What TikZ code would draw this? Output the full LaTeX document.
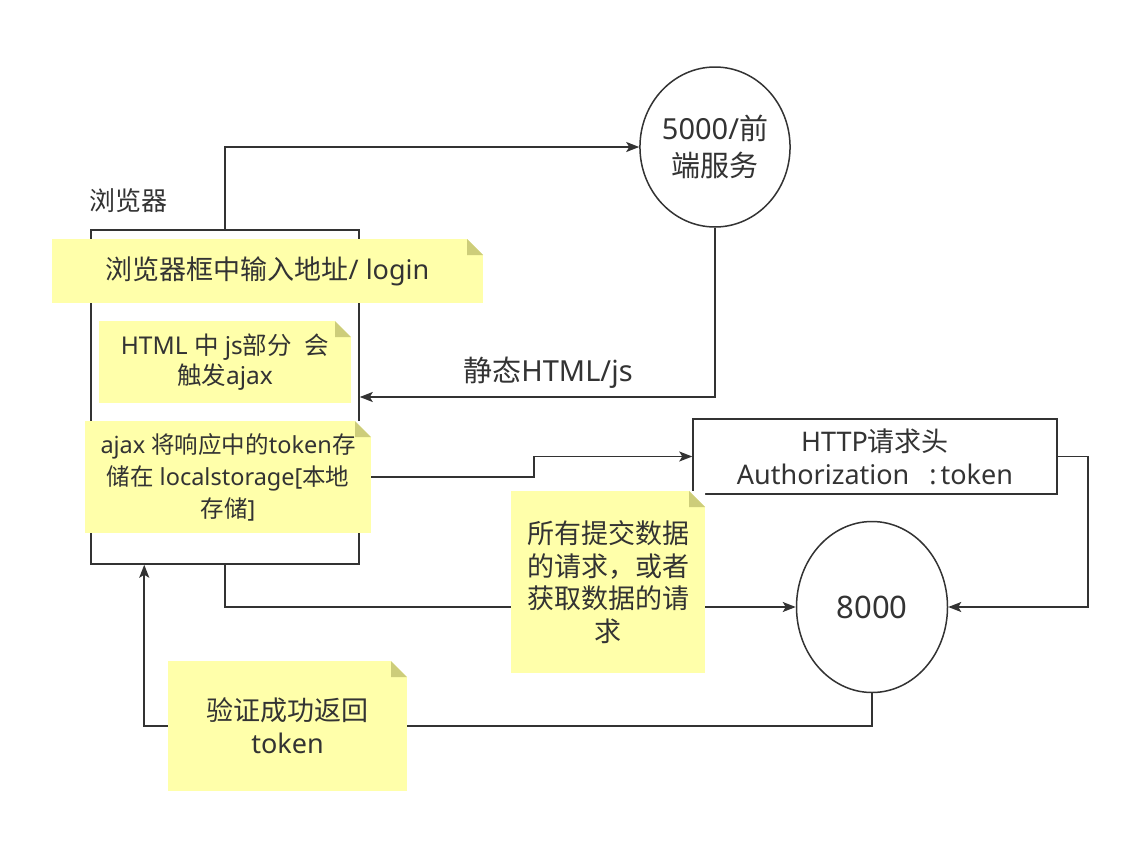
\documentclass[tikz,border=0pt]{standalone}
\usepackage{fontspec}
\setmainfont{Noto Sans}
\newfontfamily\cjk{Noto Sans CJK SC}
\usetikzlibrary{shapes.geometric,arrows.meta,calc}
\definecolor{ink}{HTML}{333333}
\definecolor{notefill}{HTML}{FFFFAA}
\definecolor{notefold}{HTML}{CDCD7A}
\pgfdeclarelayer{back}
\pgfdeclarelayer{lines}
\pgfsetlayers{back,lines,main}
\newcommand{\fsz}[2]{\fontsize{#1}{#2}\selectfont}
\newcommand{\zh}[1]{{\cjk #1}}
\tikzset{
  stickynote/.style={fill=notefill, text=ink, align=center, inner sep=0pt,
    path picture={
      \fill[white] (path picture bounding box.north east) -- ++(-16pt,0pt)
        -- ++(16pt,-16pt) -- cycle;
      \fill[notefold] (path picture bounding box.north east) ++(-16pt,0pt)
        -- ++(0pt,-16pt) -- ++(16pt,0pt) -- cycle;}},
  frame/.style={draw=ink, line width=1.5pt, text=ink, inner sep=0pt},
  server/.style={ellipse, draw=ink, line width=1.5pt, text=ink, align=center, inner sep=0pt},
  plain/.style={text=ink, inner sep=0pt, align=center},
  arr/.style={draw=ink, line width=1.6pt, -{Stealth[length=13pt,width=10pt,inset=3pt]}}
}
\begin{document}
\begin{tikzpicture}[x=1pt, y=-1pt]
  \begin{pgfonlayer}{back}
    \fill[white] (0,0) rectangle (1148,854);
  \end{pgfonlayer}
  \useasboundingbox (0,0) rectangle (1148,854);

  % browser frame and its caption
  \node[frame, minimum width=268pt, minimum height=334pt] (browser) at (225,397) {};
  \node[plain, font=\fsz{26}{30}] (caption) at (128,201) {\zh{浏览器}};

  % servers
  \node[server, minimum width=150pt, minimum height=160pt, font=\fsz{29}{37}] (front) at (715,147) {5000/\zh{前}\\\zh{端服务}};
  \node[server, minimum width=151pt, minimum height=171pt, font=\fsz{31}{34}] (back) at (872,607) {8000};

  % request header box
  \node[frame, minimum width=364pt, minimum height=75pt, align=center, font=\fsz{27}{33}] (http) at (875,456.5) {HTTP\zh{请求头}\\Authorization\hspace{20pt}:\hspace{4pt}token};

  % sticky notes
  \node[stickynote, minimum width=431pt, minimum height=64pt, font=\fsz{27}{32}] (n1) at (267.5,271) {\zh{浏览器框中输入地址}/ login};
  \node[stickynote, minimum width=252pt, minimum height=82pt, font=\fsz{24.5}{30}] (n2) at (225,362) {HTML \zh{中} js\zh{部分} \ \zh{会}\\\zh{触发}ajax};
  \node[stickynote, minimum width=286pt, minimum height=112pt, font=\fsz{23.5}{32}] (n3) at (228,477) {ajax \zh{将响应中的}token\zh{存}\\\zh{储在} localstorage[\zh{本地}\\\zh{存储}]};
  \node[stickynote, minimum width=194pt, minimum height=182pt, font=\fsz{27}{32.5}] (n4) at (608,582) {\zh{所有提交数据}\\\zh{的请求，或者}\\\zh{获取数据的请}\\\zh{求}};
  \node[stickynote, minimum width=239pt, minimum height=130pt, font=\fsz{27}{33}] (n5) at (287.5,726) {\zh{验证成功返回}\\token};

  \node[plain, font=\fsz{29}{30}] (static) at (548,373) {\zh{静态}HTML/js};

  % connectors
  \coordinate (retin) at ($(browser.south west)+(54pt,0pt)$);
  \begin{pgfonlayer}{lines}
    \draw[arr] (browser.north) |- (front.west);
    \draw[arr] (front.south) |- (browser.east);
    \draw[arr] (browser.east |- n3.east) -- ++(174,0) |- (http.west);
    \draw[arr] (http.east) -- ++(30,0) |- (back.east);
    \draw[arr] (browser.south) |- (back.west);
    \draw[arr] (back.south) -- ++(0,33) -| (retin);
  \end{pgfonlayer}
\end{tikzpicture}
\end{document}
